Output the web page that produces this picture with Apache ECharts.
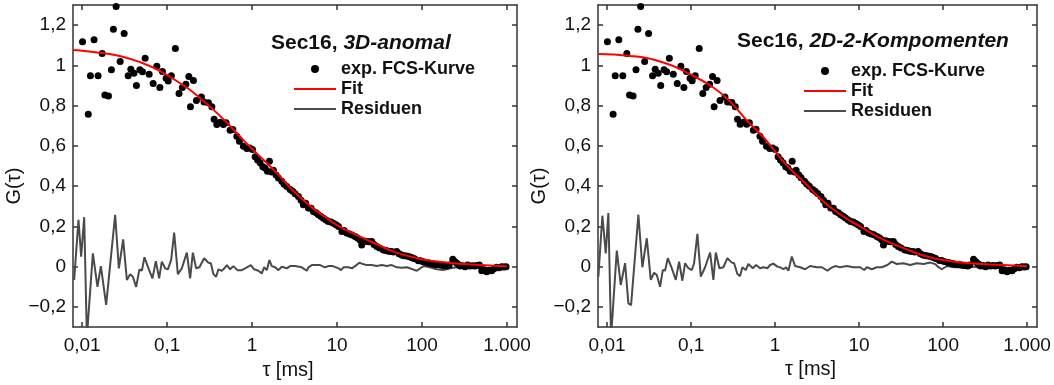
<!DOCTYPE html>
<html>
<head>
<meta charset="utf-8">
<script src="https://cdn.jsdelivr.net/npm/echarts@6/dist/echarts.min.js"></script>
<style>
    html, body { margin: 0; padding: 0; background: #fff; }
    #chart { width: 1054px; height: 385px; }
</style>
</head>
<body>
<div id="chart"></div>
<script>
// gemessene FCS-Kurve (in beiden Panels dieselbe)
const tauExp = [0.0101, 0.0118, 0.0125, 0.0138, 0.0154, 0.0172, 0.0185, 0.0204, 0.0221, 0.0233,
    0.0251, 0.028, 0.0312, 0.0348, 0.0374, 0.0406, 0.0435, 0.0477, 0.0512, 0.0551,
    0.0614, 0.0684, 0.0756, 0.0821, 0.088, 0.0973, 0.103, 0.112, 0.125, 0.138,
    0.151, 0.166, 0.18, 0.188, 0.204, 0.221, 0.253, 0.272, 0.306, 0.336,
    0.357, 0.384, 0.42, 0.459, 0.494, 0.551, 0.593, 0.661, 0.709, 0.79,
    0.866, 0.935, 1.01, 1.085, 1.16, 1.242, 1.336, 1.422, 1.514, 1.597,
    1.696, 1.781, 1.916, 2.039, 2.236, 2.38, 2.56, 2.80, 3.0, 3.21,
    3.51, 3.77, 4.01, 4.26, 4.60, 4.94, 5.26, 5.66, 6.03, 6.48,
    6.90, 7.42, 7.90, 8.50, 9.05, 9.73, 10.4, 11.4, 12.1, 13.0,
    14.0, 15.0, 16.3, 17.4, 18.6, 19.5, 20.8, 22.4, 23.8, 25.6,
    27.2, 29.3, 31.6, 35.1, 37.7, 40.4, 43.2, 46.2, 50.4, 53.6,
    57.7, 61.4, 66.1, 71.3, 76.3, 81.6, 90.5, 96.0, 103, 114,
    121, 128, 136, 146, 154, 163, 177, 195, 208, 230,
    244, 256, 269, 280, 300, 321, 343, 367, 393, 420,
    444, 472, 504, 536, 577, 614, 661, 703, 756, 805,
    866, 922, 973];
const gExp = [1.117, 0.757, 0.948, 1.127, 0.948, 1.059, 0.853, 0.848, 0.978, 1.179,
    1.292, 1.019, 1.159, 0.948, 0.981, 0.961, 0.90, 0.978, 0.968, 1.036,
    0.956, 0.91, 0.996, 0.89, 0.97, 0.936, 0.923, 0.948, 1.084, 0.86,
    0.89, 0.906, 0.945, 0.795, 0.925, 0.826, 0.843, 0.818, 0.815, 0.795,
    0.732, 0.707, 0.718, 0.707, 0.715, 0.678, 0.682, 0.648, 0.623, 0.598,
    0.587, 0.59, 0.582, 0.546, 0.53, 0.516, 0.496, 0.49, 0.474, 0.524,
    0.47, 0.479, 0.455, 0.441, 0.424, 0.41, 0.399, 0.383, 0.375, 0.363,
    0.349, 0.33, 0.308, 0.315, 0.291, 0.29, 0.274, 0.268, 0.258, 0.25,
    0.241, 0.232, 0.224, 0.222, 0.216, 0.208, 0.20, 0.175, 0.18, 0.167,
    0.162, 0.158, 0.15, 0.143, 0.133, 0.108, 0.128, 0.125, 0.124, 0.125,
    0.11, 0.10, 0.093, 0.083, 0.08, 0.077, 0.075, 0.073, 0.075, 0.064,
    0.058, 0.055, 0.053, 0.05, 0.045, 0.04, 0.03, 0.03, 0.025, 0.02,
    0.018, 0.015, 0.013, 0.01, 0.012, 0.008, 0.005, 0.003, 0.008, 0.037,
    0.025, 0.017, 0.01, 0.003, 0.005, 0.0, 0.008, 0.003, 0.005, 0.003,
    0.006, 0.008, -0.02, -0.015, -0.025, -0.018, -0.02, -0.01, -0.003, -0.005,
    0.0, -0.002, 0.0];

// Fit 3D-anomal
const tauFit3D = [0.0078, 0.01, 0.02, 0.03, 0.05, 0.07, 0.1, 0.15, 0.2, 0.3, 0.5, 0.7, 1,
    1.5, 2, 3, 5, 7, 10, 20, 30, 50, 100, 200, 500, 1000];
const gFit3D = [1.077, 1.073, 1.058, 1.043, 1.013, 0.987, 0.952, 0.905, 0.868, 0.805, 0.718, 0.652, 0.585,
    0.514, 0.461, 0.38, 0.297, 0.252, 0.207, 0.143, 0.11, 0.07, 0.037, 0.02, 0.008, 0.002];

// Fit 2D-2-Komponenten
const tauFit2D = [0.0079, 0.0188, 0.0468, 0.097, 0.184, 0.291, 0.46, 0.726, 1.38, 2.17,
    3.76, 6.5, 10.3, 17.8, 33.7, 64, 100, 209, 522, 896, 1000];
const gFit2D = [1.056, 1.047, 1.014, 0.956, 0.89, 0.82, 0.727, 0.643, 0.503, 0.424,
    0.324, 0.249, 0.2, 0.142, 0.092, 0.05, 0.033, 0.017, 0.008, 0.003, 0.002];

// Residuen 3D-anomal
const tauRes3D = [0.00805, 0.00905, 0.00973, 0.01056, 0.01136, 0.01336, 0.01514, 0.0166, 0.01916, 0.01984,
    0.02444, 0.02703, 0.03037, 0.03357, 0.03671, 0.03949, 0.04318, 0.04722, 0.0504, 0.05406,
    0.0614, 0.06716, 0.07363, 0.0805, 0.0866, 0.0947, 0.1019, 0.1115, 0.1209, 0.1336,
    0.1489, 0.1705, 0.1865, 0.2006, 0.2194, 0.2399, 0.2724, 0.306, 0.3267, 0.3505,
    0.377, 0.4013, 0.44, 0.4722, 0.504, 0.551, 0.6026, 0.6716, 0.756, 0.827,
    0.9654, 1.056, 1.186, 1.3, 1.384, 1.489, 1.597, 1.705, 1.865, 2.039,
    2.236, 2.56, 2.80, 3.21, 3.84, 4.40, 4.60, 5.04, 5.51, 6.31,
    7.22, 7.90, 8.90, 10.4, 11.1, 11.9, 13.6, 14.9, 16.3, 18.3,
    20.1, 22.4, 25.6, 29.3, 33.6, 38.4, 44.0, 50.4, 57.7, 66.1,
    72.3, 86.6, 104, 124, 149, 178, 214, 280, 367, 481,
    631, 827, 973];
const res3D = [-0.066, 0.233, 0.05, 0.246, -0.35, 0.066, -0.1, 0.003, -0.19, -0.196,
    0.258, -0.008, 0.136, -0.066, -0.037, -0.05, -0.1, -0.013, -0.02, 0.047,
    -0.017, -0.058, 0.028, -0.058, 0.025, -0.008, -0.013, 0.033, 0.17, -0.037,
    -0.008, 0.07, -0.058, 0.07, -0.008, -0.003, 0.042, 0.02, 0.017, -0.037,
    -0.05, -0.013, -0.02, -0.008, 0.008, -0.013, 0.003, -0.017, -0.017, -0.008,
    0.008, -0.013, -0.02, -0.033, -0.003, -0.017, 0.033, 0.003, -0.003, -0.017,
    0, -0.008, 0.003, 0.003, -0.003, -0.02, -0.003, 0.008, 0.008, 0.008,
    -0.003, 0.003, 0.003, -0.008, -0.017, -0.003, -0.003, -0.008, 0.003, 0.02,
    0.013, 0.008, 0.008, 0.003, 0.008, 0.003, 0.008, -0.003, -0.005, -0.003,
    -0.008, -0.02, 0.003, -0.003, -0.013, -0.017, -0.008, 0.0, -0.005, 0.0,
    -0.01, -0.003, 0.0];

// Residuen 2D-2-Komponenten
const tauRes2D = [0.00788, 0.00879, 0.00965, 0.01036, 0.01116, 0.01305, 0.01456, 0.01638, 0.01793, 0.01931,
    0.02359, 0.02632, 0.0297, 0.03313, 0.03627, 0.03906, 0.04276, 0.04604, 0.04903, 0.0528,
    0.0589, 0.06575, 0.07197, 0.07877, 0.08483, 0.09288, 0.1019, 0.1086, 0.1189, 0.1305,
    0.1468, 0.1684, 0.1843, 0.1968, 0.2173, 0.2424, 0.2704, 0.3052, 0.3251, 0.3558,
    0.3831, 0.4079, 0.4479, 0.481, 0.5428, 0.594, 0.6628, 0.7257, 0.8095, 0.8719,
    0.9546, 1.065, 1.17, 1.256, 1.352, 1.44, 1.58, 1.73, 1.985, 2.276,
    2.61, 3.14, 3.60, 4.195, 4.604, 5.18, 5.94, 7.14, 8.55, 10.3,
    11.5, 12.35, 14.2, 16.2, 18.6, 21.7, 24.5, 28.1, 33.7, 40.5,
    48.6, 58.3, 70.0, 80.3, 87.9, 96.5, 111, 133, 159, 180,
    220, 300, 400, 500, 700, 973];
const res2D = [-0.05, 0.253, 0.066, 0.266, -0.35, 0.08, -0.091, 0.017, -0.183, -0.191,
    0.258, -0.003, 0.141, -0.066, -0.03, -0.042, -0.1, -0.017, -0.02, 0.042,
    -0.008, -0.066, 0.025, -0.07, 0.017, -0.008, -0.017, 0.017, 0.163, -0.05,
    -0.003, 0.07, -0.066, 0.07, -0.008, -0.003, 0.042, 0.02, 0.017, -0.037,
    -0.047, -0.003, -0.017, 0.013, -0.008, 0.008, -0.008, -0.003, -0.008, 0.008,
    0.015, 0.0, -0.005, -0.013, -0.003, -0.02, 0.05, 0.003, -0.003, -0.013,
    0.003, -0.003, -0.003, -0.02, -0.008, 0.003, -0.003, 0.003, -0.003, -0.003,
    -0.017, -0.003, -0.013, -0.003, -0.003, 0.008, 0.025, 0.013, 0.017, 0.008,
    0.017, 0.013, 0.02, 0.013, -0.003, -0.013, 0.003, -0.003, -0.003, -0.005,
    0.0, -0.008, 0.003, -0.01, -0.005, 0.0];

const xTickValues = [0.01, 0.1, 1, 10, 100, 1000];
const xTickLabels = ['0,01', '0,1', '1', '10', '100', '1.000'];
const yTickValues = [-0.2, 0, 0.2, 0.4, 0.6, 0.8, 1, 1.2];
const yTickLabels = ['\u22120,2', '0', '0,2', '0,4', '0,6', '0,8', '1', '1,2'];
const panelNames = ['3D-anomal', '2D-2-Kompomenten'];

const font = 'Liberation Sans, Arial, Helvetica, sans-serif';
const axisColor = '#333';

function zip(xs, ys) {
    return xs.map((x, i) => [x, ys[i]]);
}

function lookupLabel(values, labels) {
    return function (v) {
        for (let i = 0; i < values.length; i++) {
            if (Math.abs(values[i] - v) < 1e-6 * Math.max(1, Math.abs(v))) return labels[i];
        }
        return '';
    };
}

const chart = echarts.init(document.getElementById('chart'));

const grids = [
    { left: 73, top: 5, width: 444, height: 323 },
    { left: 598, top: 5, width: 439, height: 322 }
];
const legendPos = [{ left: 293, top: 60 }, { left: 803, top: 62 }];
const titlePos = [{ left: 271, top: 33 }, { left: 737, top: 31 }];
const fits = [[tauFit3D, gFit3D], [tauFit2D, gFit2D]];
const residuals = [[tauRes3D, res3D], [tauRes2D, res2D]];

let xAxis = [], yAxis = [], series = [], legend = [], title = [];

grids.forEach((g, i) => {
    const tick = { show: true, inside: true, length: 5, lineStyle: { color: axisColor, width: 1.5 } };
    const line = { show: true, onZero: false, lineStyle: { color: axisColor, width: 1.5 } };
    const xBase = {
        type: 'log', logBase: 10, gridIndex: i, min: 0.0078, max: 1310,
        axisLine: line, splitLine: { show: false }, minorTick: { show: false },
        axisTick: Object.assign({ customValues: xTickValues }, tick)
    };
    xAxis.push(Object.assign({}, xBase, {
        position: 'bottom',
        axisLabel: {
            customValues: xTickValues, formatter: lookupLabel(xTickValues, xTickLabels),
            fontSize: 19, fontFamily: font, color: '#111', margin: 9
        },
        name: 'τ [ms]', nameLocation: 'middle', nameGap: 31,
        nameTextStyle: { fontSize: 20, fontFamily: font, color: '#111', padding: [0, 14, 0, 0] }
    }));
    xAxis.push(Object.assign({}, xBase, { position: 'top', axisLabel: { show: false } }));

    const yBase = {
        type: 'value', gridIndex: i, min: -0.3, max: 1.3,
        axisLine: line, splitLine: { show: false },
        axisTick: Object.assign({ customValues: yTickValues }, tick)
    };
    yAxis.push(Object.assign({}, yBase, {
        position: 'left',
        axisLabel: {
            customValues: yTickValues, formatter: lookupLabel(yTickValues, yTickLabels),
            fontSize: 19, fontFamily: font, color: '#111', margin: 7
        },
        name: 'G(τ)', nameLocation: 'middle', nameGap: 37,
        nameTextStyle: { fontSize: 20, fontFamily: font, color: '#111', padding: [0, 40, 0, 0] }
    }));
    yAxis.push(Object.assign({}, yBase, { position: 'right', axisLabel: { show: false } }));

    series.push({
        name: 'Residuen', type: 'line', xAxisIndex: 2 * i, yAxisIndex: 2 * i,
        data: zip(residuals[i][0], residuals[i][1]), symbol: 'none',
        lineStyle: { color: '#4a4a4a', width: 2 }, itemStyle: { color: '#4a4a4a' }, z: 1
    });
    series.push({
        name: 'exp. FCS-Kurve', type: 'scatter', xAxisIndex: 2 * i, yAxisIndex: 2 * i,
        data: zip(tauExp, gExp), symbolSize: 7, itemStyle: { color: '#000', opacity: 1 }, z: 2
    });
    series.push({
        name: 'Fit', type: 'line', xAxisIndex: 2 * i, yAxisIndex: 2 * i,
        data: zip(fits[i][0], fits[i][1]), symbol: 'none', smooth: 0.5,
        lineStyle: { color: '#ff0000', width: 2 }, itemStyle: { color: '#ff0000' }, z: 3
    });

    legend.push(Object.assign({
        orient: 'vertical', itemWidth: 42, itemHeight: 8, itemGap: 2,
        padding: 0, selectedMode: false,
        data: [
            { name: 'exp. FCS-Kurve' },
            { name: 'Fit', itemStyle: { opacity: 0 } },
            { name: 'Residuen', itemStyle: { opacity: 0 } }
        ],
        textStyle: { fontSize: 18, fontWeight: 'bold', fontFamily: font, color: '#111' }
    }, legendPos[i]));

    title.push(Object.assign({
        text: '{b|Sec16, }{bi|' + panelNames[i] + '}', padding: 0,
        textStyle: {
            rich: {
                b: { fontSize: 21, fontWeight: 'bold', fontFamily: font, color: '#111' },
                bi: { fontSize: 21, fontWeight: 'bold', fontStyle: 'italic', fontFamily: font, color: '#111' }
            }
        }
    }, titlePos[i]));
});

chart.setOption({
    animation: false,
    backgroundColor: '#fff',
    title: title,
    legend: legend,
    grid: grids,
    xAxis: xAxis,
    yAxis: yAxis,
    series: series
});
</script>
</body>
</html>
